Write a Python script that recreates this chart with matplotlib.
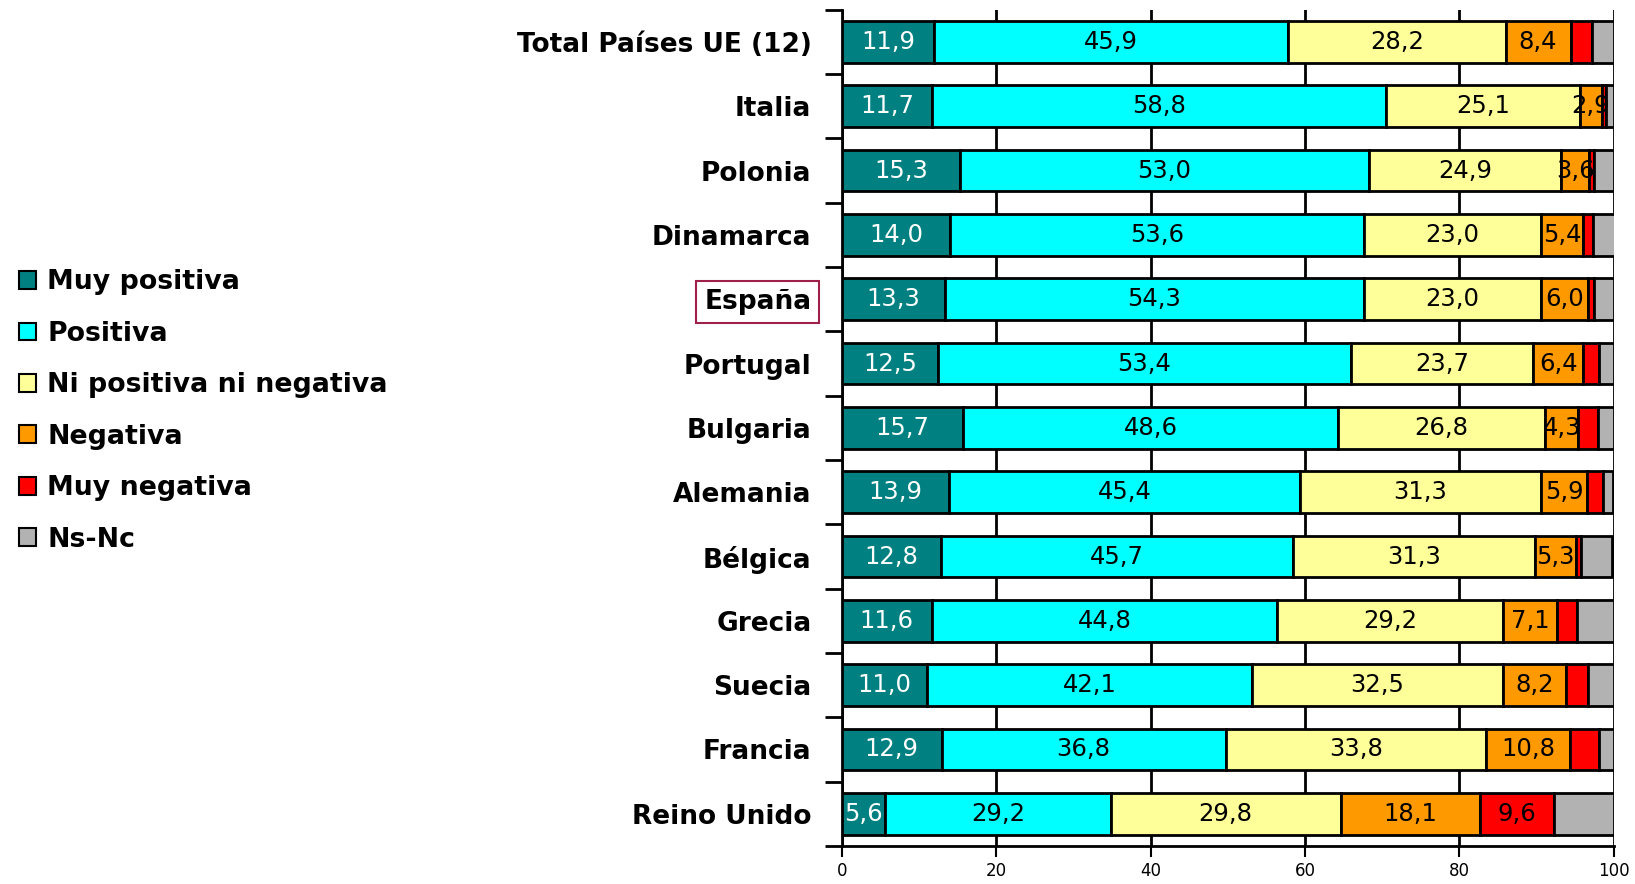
import matplotlib.pyplot as plt
from matplotlib.patches import Patch
import numpy as np

paises = ['Total Países UE (12)', 'Italia', 'Polonia', 'Dinamarca', 'España', 'Portugal',
          'Bulgaria', 'Alemania', 'Bélgica', 'Grecia', 'Suecia', 'Francia', 'Reino Unido']

muy_positiva = [11.9, 11.7, 15.3, 14.0, 13.3, 12.5, 15.7, 13.9, 12.8, 11.6, 11.0, 12.9, 5.6]
positiva = [45.9, 58.8, 53.0, 53.6, 54.3, 53.4, 48.6, 45.4, 45.7, 44.8, 42.1, 36.8, 29.2]
ni_ni = [28.2, 25.1, 24.9, 23.0, 23.0, 23.7, 26.8, 31.3, 31.3, 29.2, 32.5, 33.8, 29.8]
negativa = [8.4, 2.9, 3.6, 5.4, 6.0, 6.4, 4.3, 5.9, 5.3, 7.1, 8.2, 10.8, 18.1]
muy_negativa = [2.8, 0.5, 0.6, 1.3, 0.9, 2.1, 2.5, 2.1, 0.6, 2.5, 2.8, 3.8, 9.6]
ns_nc = [2.8, 1.0, 2.6, 3.2, 2.5, 1.9, 2.1, 1.3, 4.1, 4.8, 3.4, 1.9, 7.7]

series = [muy_positiva, positiva, ni_ni, negativa, muy_negativa, ns_nc]
nombres = ['Muy positiva', 'Positiva', 'Ni positiva ni negativa', 'Negativa', 'Muy negativa', 'Ns-Nc']
colores = ['#008080', '#00FFFF', '#FFFF99', '#FF9900', '#FF0000', '#B2B2B2']
color_texto = ['white', 'black', 'black', 'black', 'black', None]
min_etiqueta = [0, 0, 0, 0, 5, 999]

fig = plt.figure(figsize=(16.35, 8.84), dpi=100)
ax = fig.add_axes([0.515, 0.043, 0.472, 0.946])

y = np.arange(len(paises))
izq = np.zeros(len(paises))
for vals, col, tc, mn in zip(series, colores, color_texto, min_etiqueta):
    vals = np.array(vals)
    ax.barh(y, vals, left=izq, height=0.65, color=col, edgecolor='black', linewidth=2, zorder=3)
    for i in range(len(vals)):
        if vals[i] > mn:
            ax.text(izq[i] + vals[i] / 2, y[i], ('%.1f' % vals[i]).replace('.', ','),
                    ha='center', va='center', fontsize=17.5, color=tc, zorder=4)
    izq = izq + vals

ax.set_xlim(0, 100)
ax.set_ylim(len(paises) - 0.5, -0.5)
ax.set_xticks([0, 20, 40, 60, 80, 100])
ax.tick_params(axis='x', labelsize=12, length=8, width=1.5, direction='out')
ax.xaxis.grid(True, color='black', linewidth=2, zorder=0)
ax.set_axisbelow(True)

ax.set_yticks(y)
ax.set_yticklabels(paises, fontsize=19, fontweight='bold')
ax.tick_params(axis='y', which='major', length=0, pad=22)
ax.set_yticks(np.arange(-0.5, len(paises)), minor=True)
ax.tick_params(axis='y', which='minor', length=12, width=2, direction='out')

for s in ['top', 'right']:
    ax.spines[s].set_visible(False)
ax.spines['left'].set_linewidth(2)
ax.spines['bottom'].set_linewidth(2)

for lab in ax.get_yticklabels():
    if lab.get_text() == 'España':
        lab.set_bbox(dict(facecolor='none', edgecolor='#A0204A', linewidth=1.5, boxstyle='square,pad=0.3'))

handles = [Patch(facecolor=c, edgecolor='black', linewidth=1.5) for c in colores]
fig.legend(handles, nombres, loc='center left', bbox_to_anchor=(0.005, 0.535), frameon=False,
           prop={'size': 19.3, 'weight': 'bold'}, handlelength=0.65, handleheight=0.65,
           handletextpad=0.4, labelspacing=0.95, borderaxespad=0)

fig.savefig('out.png', dpi=100)
